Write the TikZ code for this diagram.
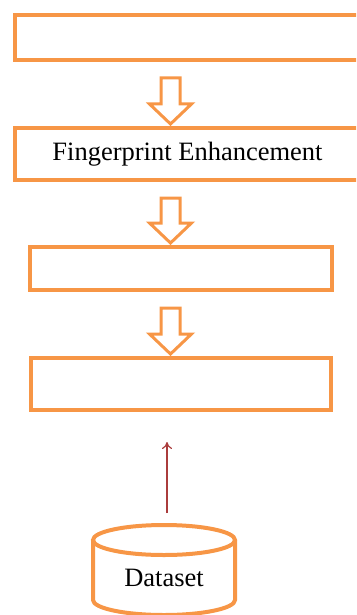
\documentclass[tikz,border=0pt]{standalone}
\usepackage{fontspec}
\setmainfont{Liberation Serif}
\usetikzlibrary{calc,arrows.meta}
\definecolor{boxorange}{RGB}{247,150,70}
\definecolor{linkred}{RGB}{170,60,60}
\begin{document}
\begin{tikzpicture}[x=1pt,y=-1pt,
    stepbox/.style={draw=boxorange,line width=4pt,outer sep=0pt,inner sep=0pt,
      font=\fontsize{26.5}{30}\selectfont},
    blockarrow/.style={draw=boxorange,line width=3pt,line join=miter},
    dbline/.style={draw=boxorange,line width=4pt}]
  \useasboundingbox (0,0) rectangle (356,615);
  \clip (0,0) rectangle (356,615);

  % Draw the steps
  \foreach \name/\cx/\cy/\w/\h/\txt in {stepA/187.5/37.5/345/45/,
      stepB/187.5/154/345/52/Fingerprint Enhancement,
      stepC/181/268.5/302/43/, stepD/181/384/300/52/} {
    \node[stepbox,minimum width=\w pt,minimum height=\h pt] (\name) at (\cx,\cy) {\txt};
  }

  % Hollow arrows between the steps
  \coordinate (ax) at (170.5,0);
  \foreach \a/\b in {stepA/stepB, stepB/stepC, stepC/stepD} {
    \draw[blockarrow] let \p1=($(\a.south -| ax)+(0,18)$), \p2=($(\b.north -| ax)+(0,-4)$) in
      (\x1-9.5pt,\y1) -- (\x1-9.5pt,\y2+20pt) -- (\x1-21pt,\y2+20pt) -- (\x2,\y2)
      -- (\x1+21pt,\y2+20pt) -- (\x1+9.5pt,\y2+20pt) -- (\x1+9.5pt,\y1) -- cycle;
  }

  % Dataset cylinder
  \draw[dbline] (93,540) -- (93,600) arc[start angle=180,end angle=360,x radius=71pt,y radius=15pt] -- (235,540);
  \draw[dbline] (164,540) ellipse [x radius=71pt,y radius=15pt];
  \node[font=\fontsize{26.5}{30}\selectfont] (db) at (164,578) {Dataset};
  \coordinate (dbtop) at (167,525);

  % Link up to the last step
  \draw[linkred,line width=1.2pt,-{To[length=7pt,width=10pt]},shorten <=12pt,shorten >=32pt]
    (dbtop) -- (dbtop |- stepD.south);
\end{tikzpicture}
\end{document}
